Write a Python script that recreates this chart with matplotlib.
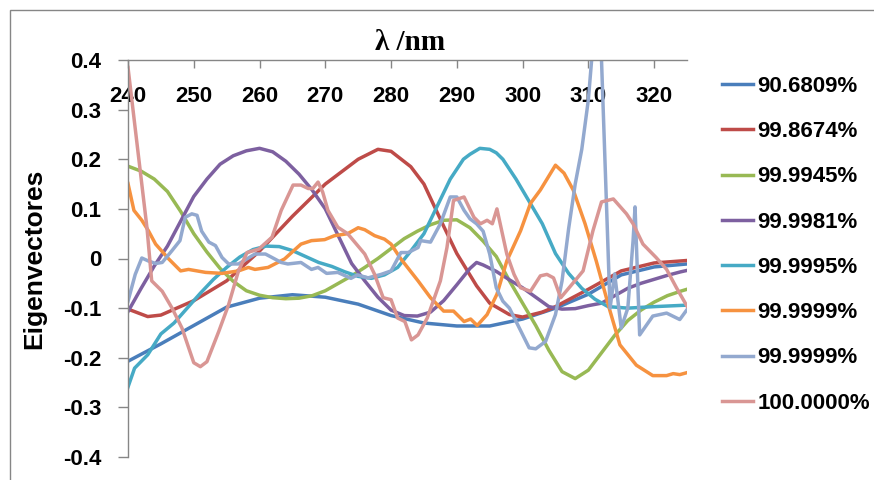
import matplotlib
matplotlib.use("Agg")
import matplotlib.pyplot as plt
from matplotlib.patches import Rectangle

plt.rcParams['font.family'] = ['Liberation Sans', 'DejaVu Sans']
plt.rcParams['font.weight'] = 'bold'

# eigenvector loadings, wavelength in nm
blue_x = [240, 245, 250, 255, 260, 265, 270, 275, 280, 285, 290, 295, 300, 305, 310, 315, 320, 325]
blue_y = [-0.207, -0.172, -0.135, -0.098, -0.080, -0.073, -0.078, -0.092, -0.115, -0.130,
          -0.136, -0.136, -0.122, -0.100, -0.072, -0.033, -0.017, -0.011]

red_x = [240, 243, 245, 250, 255, 260, 265, 270, 275, 278, 280, 283, 285, 288, 290, 293,
         295, 298, 300, 303, 305, 310, 315, 320, 325]
red_y = [-0.102, -0.117, -0.114, -0.085, -0.045, 0.015, 0.085, 0.150, 0.200, 0.220, 0.216,
         0.185, 0.150, 0.065, 0.010, -0.055, -0.090, -0.113, -0.118, -0.108, -0.097, -0.062,
         -0.025, -0.009, -0.004]

green_x = [240, 242, 244, 246, 248, 250, 252, 254, 256, 258, 260, 262, 264, 266, 268, 270,
           272, 274, 276, 278, 280, 282, 284, 286, 288, 290, 292, 294, 296, 298, 300, 302,
           304, 306, 308, 310, 312, 314, 316, 318, 320, 322, 324, 325]
green_y = [0.186, 0.176, 0.160, 0.135, 0.095, 0.050, 0.013, -0.020, -0.046, -0.065, -0.074,
           -0.079, -0.081, -0.080, -0.075, -0.065, -0.050, -0.035, -0.018, 0.000, 0.020, 0.040,
           0.055, 0.068, 0.077, 0.078, 0.062, 0.035, 0.004, -0.045, -0.090, -0.135, -0.185,
           -0.228, -0.242, -0.225, -0.190, -0.155, -0.125, -0.104, -0.088, -0.075, -0.066, -0.062]

purple_x = [240, 242, 244, 246, 248, 250, 252, 254, 256, 258, 260, 262, 264, 266, 268, 270,
            272, 274, 276, 278, 280, 282, 284, 286, 288, 290, 292, 293, 294, 296, 298, 300,
            302, 304, 306, 308, 310, 312, 314, 316, 318, 320, 322, 324, 325]
purple_y = [-0.107, -0.060, -0.015, 0.025, 0.075, 0.125, 0.160, 0.190, 0.207, 0.217, 0.222,
            0.215, 0.196, 0.170, 0.138, 0.100, 0.045, -0.010, -0.045, -0.078, -0.104, -0.115,
            -0.116, -0.108, -0.085, -0.053, -0.020, -0.008, -0.013, -0.026, -0.043, -0.059,
            -0.078, -0.097, -0.102, -0.101, -0.095, -0.090, -0.075, -0.060, -0.050, -0.042,
            -0.034, -0.027, -0.024]

teal_x = [240, 241, 243, 245, 247, 249, 251, 253, 255, 257, 259, 261, 263, 265, 267, 269,
          271, 273, 275, 277, 279, 281, 283, 285, 287, 289, 291, 292, 293.5, 295, 296, 297,
          299, 301, 303, 305, 307, 309, 311, 313, 316, 320, 325]
teal_y = [-0.259, -0.221, -0.194, -0.152, -0.130, -0.100, -0.070, -0.042, -0.018, 0.003,
          0.018, 0.025, 0.024, 0.016, 0.004, -0.008, -0.016, -0.027, -0.036, -0.040, -0.033,
          -0.018, 0.015, 0.050, 0.105, 0.160, 0.200, 0.210, 0.222, 0.220, 0.213, 0.200, 0.160,
          0.115, 0.070, 0.010, -0.030, -0.060, -0.082, -0.097, -0.100, -0.097, -0.094]

orange_x = [240, 240.9, 242.1, 243.1, 244.2, 246.2, 248, 249.2, 251.8, 254.3, 256.8, 258.3,
            259.3, 261.3, 263.8, 266.3, 267.9, 269.9, 271.4, 273.4, 275, 276, 277.5, 279, 280,
            281.5, 284.1, 286, 288, 289.5, 291.1, 292.1, 293.1, 294.6, 296.1, 297.6, 299.7,
            301.2, 302.7, 305, 306.3, 307.7, 309.5, 311.2, 313.3, 314.8, 317.3, 319.8, 321.9,
            322.9, 323.9, 325]
orange_y = [0.151, 0.097, 0.077, 0.056, 0.029, -0.001, -0.025, -0.022, -0.028, -0.030, -0.025,
            -0.018, -0.022, -0.018, -0.001, 0.029, 0.036, 0.038, 0.046, 0.050, 0.062, 0.058,
            0.046, 0.039, 0.029, -0.001, -0.045, -0.079, -0.106, -0.106, -0.127, -0.122,
            -0.135, -0.113, -0.072, -0.005, 0.056, 0.111, 0.138, 0.188, 0.172, 0.138, 0.070,
            -0.005, -0.106, -0.174, -0.215, -0.236, -0.236, -0.232, -0.234, -0.230]

ltblue_x = [240, 241.1, 242.1, 243.1, 244.2, 245.2, 246.7, 247.9, 248.7, 249.7, 250.5, 251.2,
            252.3, 253.3, 254.3, 255.3, 256.8, 259.3, 260.9, 261.9, 263.3, 264.3, 266.3, 267.9,
            268.9, 270.2, 271.9, 273.9, 274.9, 276.5, 278.5, 280, 281.5, 282.6, 284.1, 284.5,
            286, 287.5, 289, 290, 291.1, 292, 293, 294, 295, 296, 297, 298, 299.5, 301, 302,
            303.5, 305, 306, 307, 308, 309, 310, 311, 312, 313.3, 314, 315, 316, 316.8, 317.1,
            317.8, 319.8, 321.9, 323.9, 325]
ltblue_y = [-0.086, -0.032, 0.001, -0.005, -0.010, -0.008, 0.016, 0.036, 0.083, 0.090, 0.087,
            0.055, 0.033, 0.026, 0.002, -0.011, -0.011, 0.009, 0.009, 0.002, -0.008, -0.011,
            -0.008, -0.022, -0.018, -0.030, -0.028, -0.040, -0.033, -0.039, -0.032, -0.025,
            0.012, 0.012, 0.022, 0.036, 0.033, 0.070, 0.124, 0.124, 0.097, 0.080, 0.070, 0.055,
            0.009, -0.059, -0.086, -0.100, -0.140, -0.180, -0.182, -0.167, -0.113, -0.045,
            0.060, 0.150, 0.220, 0.320, 0.480, 0.400, -0.100, -0.031, -0.140, -0.100, 0.036,
            0.104, -0.154, -0.116, -0.110, -0.123, -0.103]

pink_x = [240, 242.9, 243.6, 245.2, 246.7, 248.2, 250, 251, 252, 253.8, 255.3, 256.8, 258.1,
          259.9, 261.9, 263.3, 265.1, 266.3, 267.4, 268.1, 268.9, 269.6, 270.4, 271.9, 273.4,
          276, 277.5, 278.8, 280, 281, 282.1, 283.1, 284.1, 285.5, 287.5, 288.5, 289.5, 291.1,
          292.6, 293.6, 294.6, 295.4, 296.1, 297.6, 298.7, 299.7, 301.2, 302.7, 303.7, 304.7,
          305.8, 307.7, 309.2, 310.7, 312, 313.8, 315.8, 316.8, 318.3, 320.3, 321.9, 323.4, 325]
pink_y = [0.385, 0.060, -0.045, -0.066, -0.100, -0.140, -0.210, -0.218, -0.208, -0.147,
          -0.093, -0.025, 0.012, 0.019, 0.043, 0.097, 0.148, 0.148, 0.141, 0.141, 0.154, 0.134,
          0.097, 0.063, 0.050, 0.009, -0.032, -0.079, -0.083, -0.120, -0.127, -0.164, -0.154,
          -0.120, -0.045, 0.022, 0.117, 0.124, 0.083, 0.070, 0.077, 0.070, 0.100, 0.009,
          -0.032, -0.059, -0.066, -0.035, -0.032, -0.039, -0.079, -0.049, -0.025, 0.056, 0.114,
          0.120, 0.090, 0.070, 0.029, 0.002, -0.022, -0.059, -0.096]

series = [
    (blue_x, blue_y, '90.6809%', '#4A7EBB'),
    (red_x, red_y, '99.8674%', '#BE4B48'),
    (green_x, green_y, '99.9945%', '#98B954'),
    (purple_x, purple_y, '99.9981%', '#7D60A0'),
    (teal_x, teal_y, '99.9995%', '#46AAC5'),
    (orange_x, orange_y, '99.9999%', '#F69240'),
    (ltblue_x, ltblue_y, '99.9999%', '#93A9CF'),
    (pink_x, pink_y, '100.0000%', '#D99694'),
]

x_ticks = [240, 250, 260, 270, 280, 290, 300, 310, 320]
y_ticks = [-0.4, -0.3, -0.2, -0.1, 0, 0.1, 0.2, 0.3, 0.4]
y_labels = ['-0.4', '-0.3', '-0.2', '-0.1', '0', '0.1', '0.2', '0.3', '0.4']

grey = '#868686'

fig = plt.figure(figsize=(8.74, 4.8), dpi=100)
# chart area border (cropped on the right and bottom)
fig.add_artist(Rectangle((10 / 874, -0.1), 1.2, 470 / 480 + 0.1, transform=fig.transFigure,
                         fill=False, edgecolor=grey, lw=1))

ax = fig.add_axes([128 / 874, 23 / 480, 559 / 874, 397 / 480])
for xs, ys, lab, col in series:
    ax.plot(xs, ys, color=col, lw=2.5, label=lab, solid_joinstyle='round')

ax.set_xlim(240, 325)
ax.set_ylim(-0.4, 0.4)
ax.set_xticks(x_ticks)
ax.set_yticks(y_ticks)
ax.set_yticklabels(y_labels)

for s in ['right', 'bottom']:
    ax.spines[s].set_visible(False)
for s in ['left', 'top']:
    ax.spines[s].set_color(grey)
    ax.spines[s].set_linewidth(1)

ax.xaxis.set_ticks_position('top')
ax.tick_params(axis='x', direction='in', length=6, color=grey, width=1,
               labelsize=16, pad=-26)
ax.tick_params(axis='y', direction='out', length=7, color=grey, width=1,
               labelsize=16, pad=12)
for t in ax.get_xticklabels():
    t.set_va('center')

ax.set_ylabel('Eigenvectores', fontsize=19, fontweight='bold', labelpad=12)

fig.text(410 / 874, 1 - 43 / 480, 'λ /nm', family=['Liberation Serif', 'DejaVu Serif'],
         fontsize=21, fontweight='bold', ha='center', va='center')

fig.legend(loc='upper left', bbox_to_anchor=(722 / 874, 1 - 76 / 480), frameon=False,
           fontsize=16, handlelength=1.4, handletextpad=0.2, labelspacing=1.09,
           borderpad=0, borderaxespad=0)

fig.savefig('out.png', dpi=100)
